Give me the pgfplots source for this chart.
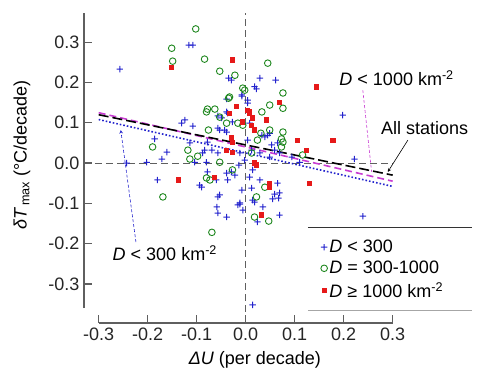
\documentclass[border=0pt]{standalone}
\usepackage{fontspec}
\setmainfont{Liberation Sans}
\usepackage{pgfplots}
\pgfplotsset{compat=1.18}
\definecolor{cblue}{RGB}{35,35,205}
\definecolor{cgreen}{RGB}{30,135,30}
\definecolor{cred}{RGB}{230,25,25}
\definecolor{cmag}{RGB}{200,60,210}
\definecolor{spine}{RGB}{95,95,95}
\newcommand{\fs}{\fontsize{18}{21}\selectfont}
\pgfdeclareplotmark{bplus}{%
  \pgfsetfillcolor{cblue}%
  \pgfpathrectangle{\pgfqpoint{-\pgfplotmarksize}{-0.5pt}}{\pgfqpoint{2\pgfplotmarksize}{1pt}}%
  \pgfpathrectangle{\pgfqpoint{-0.5pt}{-\pgfplotmarksize}}{\pgfqpoint{1pt}{2\pgfplotmarksize}}%
  \pgfsetnonzerorule\pgfusepathqfill}
\pgfdeclareplotmark{gcirc}{%
  \pgfsetstrokecolor{cgreen}\pgfsetlinewidth{0.9pt}%
  \pgfpathcircle{\pgfpointorigin}{\pgfplotmarksize}%
  \pgfusepathqstroke}
\pgfdeclareplotmark{rsq}{%
  \pgfsetfillcolor{cred}%
  \pgfpathrectangle{\pgfqpoint{-\pgfplotmarksize}{-\pgfplotmarksize}}{\pgfqpoint{2\pgfplotmarksize}{2\pgfplotmarksize}}%
  \pgfusepathqfill}
\begin{document}
\begin{tikzpicture}
\path[use as bounding box] (-84pt,-51pt) rectangle (395pt,323pt);
\begin{axis}[at={(0,0)}, anchor=south west, scale only axis,
  width=392pt, height=311pt,
  xmin=-0.33, xmax=0.47, ymin=-0.397, ymax=0.375,
  axis x line=bottom, axis y line=left,
  axis line style={draw=none,-},
  clip=false,
  tick align=inside, major tick length=8pt,
  tick style={spine, line width=1.2pt},
  xtick={-0.3,-0.2,-0.1,0,0.1,0.2,0.3},
  ytick={-0.3,-0.2,-0.1,0,0.1,0.2,0.3},
  minor tick num=0,
  ticklabel style={font=\fs, text=black!85},
  /pgf/number format/.cd, fixed, fixed zerofill, precision=1, assume math mode=true,
  /pgfplots/.cd,
  xticklabel style={yshift=-1pt},
  yticklabel style={xshift=-1pt},
  xlabel={\textit{ΔU} (per decade)},
  ylabel={\textit{δT}\textsubscript{\,max} (°C/decade)},
  label style={font=\fontsize{18}{21}\selectfont},
  xlabel style={at={(axis description cs:0.436,-0.119)}, anchor=center},
  ylabel style={at={(axis description cs:-0.158,0.54)}, anchor=center},
  legend style={at={(axis cs:0.153,-0.186)}, anchor=north west, draw=none, fill=none,
    font=\fs, inner sep=0pt, row sep=3pt},
  legend cell align=left,
]
% spines
\draw[spine, line width=1.4pt] (axis cs:-0.33,-0.36) -- (axis cs:-0.33,0.372);
\draw[spine, line width=1.4pt] (axis cs:-0.3,-0.397) -- (axis cs:0.3,-0.397);
% zero lines
\draw[spine, line width=1pt, dash pattern=on 7pt off 4pt] (axis cs:-0.33,0) -- (axis cs:0.3,0);
\draw[spine, line width=1pt, dash pattern=on 7pt off 4pt] (axis cs:0,-0.397) -- (axis cs:0,0.372);

\addplot[only marks, mark=bplus, mark size=3.2pt, color=cblue] coordinates {
(-0.257,0.233) (-0.116,0.293) (-0.108,0.293) (-0.035,0.211) (0.029,0.211) (0.061,0.206)
(0.022,0.184) (0.018,0.190) (-0.008,0.166) (0.004,0.156) (-0.039,0.159) (-0.039,0.127)
(-0.057,0.117) (0.198,0.119) (0.222,0.010) (-0.124,0.107) (-0.108,0.092) (-0.186,0.060)
(-0.161,0.027) (-0.202,0.002) (-0.171,0.010) (-0.180,-0.042) (-0.094,-0.055) (-0.131,0.099)
(-0.114,0.050) (-0.104,0.002) (-0.080,0.002) (-0.243,0.000) (-0.060,-0.042) (-0.039,-0.025)
(-0.057,-0.084) (-0.057,-0.124) (-0.039,-0.134) (-0.016,-0.104) (-0.012,-0.102) (0.024,-0.146)
(0.069,-0.129) (0.014,-0.352) (0.018,-0.097) (0.239,-0.132) (0.067,-0.087) (0.059,-0.077)
(-0.049,0.112) (-0.027,0.102) (-0.057,0.087) (-0.039,0.077) (0.008,0.099) (0.033,0.069)
(0.045,0.069) (0.053,0.045) (-0.078,0.052) (-0.088,0.025) (-0.057,0.025) (-0.012,0.025)
(-0.002,0.007) (-0.014,-0.005) (0.014,-0.017) (0.008,-0.035) (-0.022,-0.030) (-0.037,-0.042)
(-0.029,-0.022) (-0.078,-0.022) (-0.090,-0.060) (-0.053,-0.079) (-0.012,-0.099) (-0.008,-0.067)
(0.012,-0.062) (0.029,-0.042) (0.014,-0.092) (0.065,-0.050) (0.069,-0.074) (0.055,-0.089)
(0.035,-0.109) (-0.006,-0.117) (-0.059,-0.109) (0.049,0.015) (0.029,0.025) (0.069,0.025)
(0.094,0.015) (0.110,0.002) (-0.029,0.206) (-0.008,0.169) (-0.037,0.124) (-0.053,0.082)
(-0.043,0.082) (-0.084,0.032) (-0.069,0.032) (0.004,0.149) (0.049,0.074) (0.039,0.065)
(0.004,0.057) (0.065,0.050) (0.059,0.032) (0.012,0.032)
};
\addlegendentry{\textit{D} < 300}
\addplot[only marks, mark=gcirc, mark size=3.3pt, color=cgreen] coordinates {
(-0.102,0.333) (-0.151,0.285) (-0.149,0.253) (-0.084,0.258) (-0.053,0.228) (-0.022,0.218)
(0.045,0.248) (0.076,0.174) (0.049,0.144) (-0.006,0.186) (-0.035,0.161) (-0.078,0.134)
(-0.063,0.134) (0.076,0.136) (0.073,0.060) (0.073,0.040) (0.031,0.074) (-0.190,0.040)
(-0.118,0.032) (-0.098,0.017) (-0.114,0.010) (-0.053,0.002) (-0.080,-0.037) (-0.169,-0.084)
(-0.069,-0.172) (0.018,-0.134) (0.047,-0.144) (-0.073,-0.042) (-0.027,-0.017) (0.012,0.025)
(0.022,-0.084) (0.039,-0.060) (0.076,0.052) (0.024,0.057) (0.116,0.020) (0.049,0.082)
(-0.006,0.094) (-0.039,0.099) (-0.053,0.114) (-0.080,0.127) (0.033,0.127) (0.076,0.077)
(-0.002,0.181) (-0.033,0.164) (-0.076,0.082) (-0.016,0.099)
};
\addlegendentry{\textit{D} = 300-1000}
\addplot[only marks, mark=rsq, mark size=2.6pt, color=cred] coordinates {
(-0.152,0.237) (-0.027,0.256) (0.145,0.189) (0.069,0.151) (-0.018,0.141) (0.004,0.131)
(0.014,0.112) (0.106,0.057) (0.043,0.107) (0.124,0.032) (0.178,0.057) (0.131,-0.050)
(0.018,0.000) (0.049,-0.050) (-0.137,-0.042) (-0.063,-0.035) (-0.027,0.052) (-0.027,0.027)
(-0.033,0.124) (-0.029,0.062) (-0.039,0.032) (0.022,-0.005) (0.049,-0.060) (0.008,0.124)
(0.033,-0.129) (-0.006,0.102) (0.012,0.094) (0.018,0.082) (0.008,0.127)
};
\addlegendentry{\textit{D} ≥ 1000 km\textsuperscript{-2}}
% regression lines
\addplot[cblue, line width=1.6pt, dotted, forget plot] coordinates {(-0.3,0.108) (0.3,-0.058)};
\addplot[cmag, line width=1.6pt, dash pattern=on 7pt off 4pt, forget plot] coordinates {(-0.3,0.125) (0.3,-0.045)};
\addplot[black, line width=1.6pt, dash pattern=on 10pt off 4pt, forget plot] coordinates {(-0.3,0.120) (0.3,-0.030)};
% legend frame lines
\draw[black!80, line width=1pt] (axis cs:0.127,-0.159) -- (axis cs:0.461,-0.159);
\draw[black!35, line width=1pt] (axis cs:0.127,-0.367) -- (axis cs:0.461,-0.367);
% annotations
\node[font=\fontsize{18}{21}\selectfont] at (axis cs:0.308,0.211) {\textit{D} < 1000 km\textsuperscript{-2}};
\draw[cmag, line width=0.6pt, dash pattern=on 3pt off 2pt] (axis cs:0.239,0.181) -- (axis cs:0.257,-0.022);
\node[font=\fontsize{18}{21}\selectfont] at (axis cs:0.365,0.087) {All stations};
\draw[black, line width=0.6pt, ->, >=stealth] (axis cs:0.331,0.057) -- (axis cs:0.29,-0.022);
\node[font=\fontsize{18}{21}\selectfont] at (axis cs:-0.165,-0.223) {\textit{D} < 300 km\textsuperscript{-2}};
\draw[cblue, line width=0.6pt, dash pattern=on 3pt off 2pt, ->, >=stealth] (axis cs:-0.224,-0.196) -- (axis cs:-0.255,0.082);
\end{axis}
\end{tikzpicture}
\end{document}
